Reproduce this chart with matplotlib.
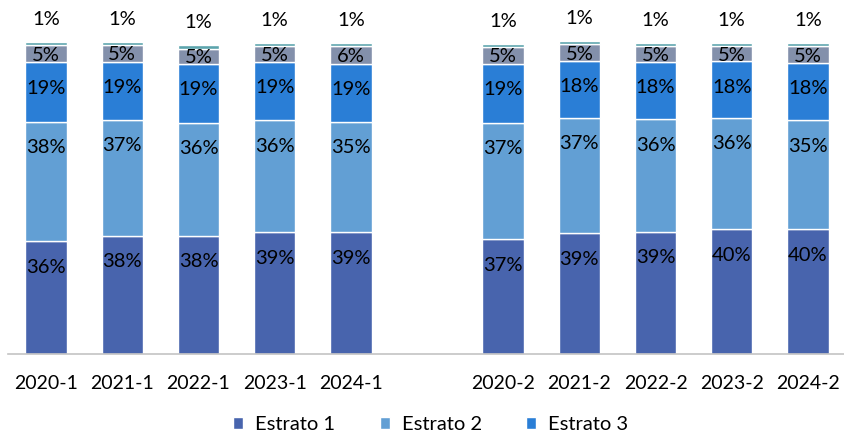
import matplotlib
matplotlib.use("Agg")
import matplotlib.pyplot as plt
import numpy as np

plt.rcParams['font.family'] = ['Lato', 'DejaVu Sans']

periods = ['2020-1', '2021-1', '2022-1', '2023-1', '2024-1',
           '2020-2', '2021-2', '2022-2', '2023-2', '2024-2']
estrato1 = [36.0, 37.9, 37.9, 39.0, 38.9, 36.7, 38.6, 39.2, 39.9, 39.9]
estrato2 = [38.4, 37.2, 36.1, 35.9, 35.4, 37.4, 37.0, 36.0, 35.8, 35.0]
estrato3 = [19.1, 18.6, 19.1, 18.7, 18.7, 19.0, 18.3, 18.4, 18.1, 18.4]
estrato4 = [5.4, 5.4, 4.8, 5.2, 5.8, 5.4, 5.3, 5.1, 5.0, 5.3]
estrato5 = [1.0, 1.0, 1.0, 1.0, 1.0, 1.0, 1.0, 1.0, 1.0, 1.0]

series = [estrato1, estrato2, estrato3, estrato4, estrato5]
names = ['Estrato 1', 'Estrato 2', 'Estrato 3', 'Estrato 4', 'Estrato 5']
colors = ['#4864ad', '#629fd4', '#2a7ed6', '#8390ab', '#5ba4ac']

# one empty slot between the two semesters
x = np.array([0, 1, 2, 3, 4, 6, 7, 8, 9, 10])

fig = plt.figure(figsize=(8.45, 4.34), dpi=100)
ax = fig.add_axes([8 / 845, (434 - 353.7) / 434, 838 / 845, 311.7 / 434])

bottom = np.zeros(len(x))
bars = []
for vals, name, col in zip(series, names, colors):
    vals = np.array(vals)
    b = ax.bar(x, vals, 0.545, bottom=bottom, color=col, edgecolor='white',
               linewidth=1.0, label=name)
    bars.append(b)
    if name != 'Estrato 5':
        for xi, v, b0 in zip(x, vals, bottom):
            # labels sit ~26px below segment top, or centred if segment is small
            y = max(b0 + v / 2 - 0.5, b0 + v - 8.3)
            ax.text(xi, y, f"{v:.0f}%", ha='center', va='center', fontsize=14.5,
                    color='black')
    else:
        for xi, v, b0 in zip(x, vals, bottom):
            ax.text(xi, b0 + v + 7.2, f"{v:.0f}%", ha='center',
                    va='center', fontsize=14.5, color='black')
    bottom = bottom + vals

ax.set_xlim(-0.5, 10.5)
ax.set_ylim(0, 100)
ax.set_xticks(x)
ax.set_xticklabels(periods, fontsize=14)
ax.tick_params(axis='x', length=0, pad=15)
ax.set_yticks([])
for s in ['top', 'right', 'left']:
    ax.spines[s].set_visible(False)
ax.spines['bottom'].set_color('#c4c4c4')
ax.spines['bottom'].set_linewidth(1.2)

fig.legend(bars[:3], names[:3], loc='center', bbox_to_anchor=(0.51, 0.022),
           ncol=3, frameon=False, fontsize=14.5, handlelength=0.5,
           handleheight=0.5, handletextpad=0.6, columnspacing=2.2)

fig.savefig('out.png', dpi=100)
